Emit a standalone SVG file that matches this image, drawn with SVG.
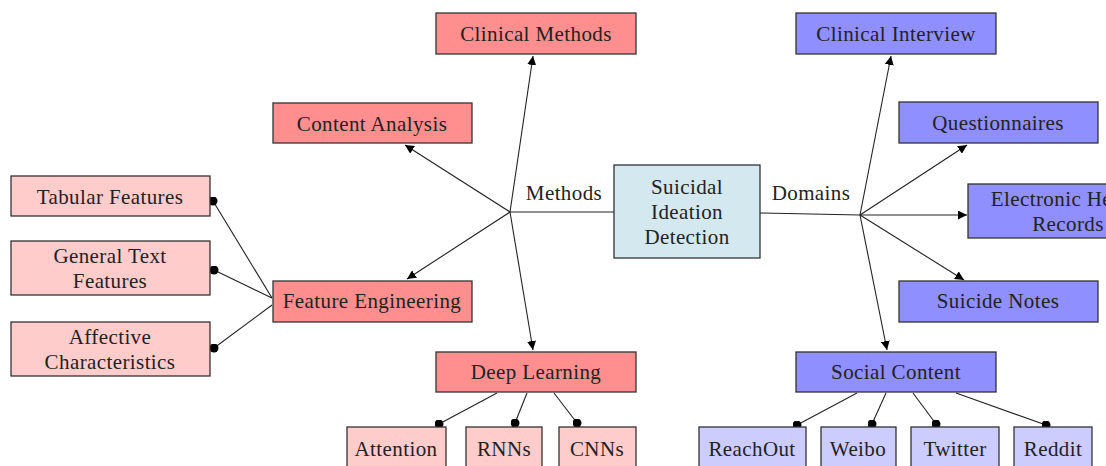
<svg xmlns="http://www.w3.org/2000/svg" width="1106" height="466" viewBox="0 0 1106 466">
  <defs>
    <marker id="arrow" viewBox="0 0 10 10" refX="10" refY="5" markerWidth="9" markerHeight="9" markerUnits="userSpaceOnUse" orient="auto">
      <path d="M0,0 L10,5 L0,10 z" fill="#000"/>
    </marker>
    <marker id="dot" viewBox="0 0 10 10" refX="5" refY="5" markerWidth="9" markerHeight="9" markerUnits="userSpaceOnUse">
      <circle cx="5" cy="5" r="5" fill="#000"/>
    </marker>
  </defs>
  <style>
    .box { stroke: #333; stroke-width: 1.3; }
    .red { fill: #ff8f8f; }
    .pink { fill: #ffcccc; }
    .blue { fill: #8f8fff; }
    .lblue { fill: #ccccff; }
    .core { fill: #d3e9ef; }
    text { font-family: "Liberation Serif", "Times New Roman", serif; font-size: 21px; letter-spacing: 0.4px; fill: #222; text-anchor: middle; }
    .edge { stroke: #222; stroke-width: 1.1; fill: none; }
    .arr { marker-end: url(#arrow); }
    .pin { marker-end: url(#dot); }
  </style>
  <rect width="1106" height="466" fill="#fff"/>

  <g id="connectors">
    <!-- hub lines -->
    <line class="edge" x1="614" y1="212" x2="510" y2="212"/>
    <line class="edge" x1="760" y1="213" x2="860" y2="215"/>
    <!-- methods -->
    <line class="edge arr" x1="510" y1="212" x2="533" y2="56"/>
    <line class="edge arr" x1="510" y1="212" x2="405" y2="145"/>
    <line class="edge arr" x1="510" y1="212" x2="407" y2="279"/>
    <line class="edge arr" x1="510" y1="212" x2="533" y2="350"/>
    <!-- domains -->
    <line class="edge arr" x1="860" y1="215" x2="891" y2="56"/>
    <line class="edge arr" x1="860" y1="215" x2="967" y2="145"/>
    <line class="edge arr" x1="860" y1="215" x2="967" y2="215"/>
    <line class="edge arr" x1="860" y1="215" x2="964" y2="280"/>
    <line class="edge arr" x1="860" y1="215" x2="887" y2="350"/>
    <!-- feature engineering children -->
    <line class="edge pin" x1="272" y1="298" x2="213" y2="201"/>
    <line class="edge pin" x1="272" y1="298" x2="214" y2="270"/>
    <line class="edge pin" x1="272" y1="305" x2="214" y2="348"/>
    <!-- deep learning children -->
    <line class="edge pin" x1="497" y1="393" x2="439" y2="424"/>
    <line class="edge pin" x1="527" y1="393" x2="515" y2="423"/>
    <line class="edge pin" x1="554" y1="393" x2="577" y2="423"/>
    <!-- social content children -->
    <line class="edge pin" x1="857" y1="393" x2="797" y2="425"/>
    <line class="edge pin" x1="886" y1="393" x2="872" y2="424"/>
    <line class="edge pin" x1="913" y1="393" x2="936" y2="424"/>
    <line class="edge pin" x1="956" y1="393" x2="1046" y2="425"/>
  </g>

  <text x="564" y="200">Methods</text>
  <text x="811" y="200">Domains</text>

  <g id="sid">
    <rect class="box core" x="614" y="165" width="146" height="93"/>
    <text x="687" y="194">Suicidal</text>
    <text x="687" y="219">Ideation</text>
    <text x="687" y="244">Detection</text>
  </g>

  <g id="clinical-methods">
    <rect class="box red" x="436" y="13" width="200" height="41"/>
    <text x="536" y="41">Clinical Methods</text>
  </g>
  <g id="content-analysis">
    <rect class="box red" x="273" y="103" width="199" height="40"/>
    <text x="372" y="131">Content Analysis</text>
  </g>
  <g id="feature-engineering">
    <rect class="box red" x="273" y="281" width="199" height="41"/>
    <text x="372" y="308">Feature Engineering</text>
  </g>
  <g id="deep-learning">
    <rect class="box red" x="436" y="352" width="200" height="40"/>
    <text x="536" y="379">Deep Learning</text>
  </g>

  <g id="tabular-features">
    <rect class="box pink" x="11" y="176" width="199" height="40"/>
    <text x="110" y="204">Tabular Features</text>
  </g>
  <g id="general-text-features">
    <rect class="box pink" x="11" y="241" width="199" height="54"/>
    <text x="110" y="263">General Text</text>
    <text x="110" y="288">Features</text>
  </g>
  <g id="affective-characteristics">
    <rect class="box pink" x="11" y="322" width="199" height="54"/>
    <text x="110" y="344">Affective</text>
    <text x="110" y="369">Characteristics</text>
  </g>

  <g id="attention">
    <rect class="box pink" x="347" y="427" width="99" height="45"/>
    <text x="396" y="456">Attention</text>
  </g>
  <g id="rnns">
    <rect class="box pink" x="466" y="427" width="76" height="45"/>
    <text x="504" y="456">RNNs</text>
  </g>
  <g id="cnns">
    <rect class="box pink" x="559" y="427" width="77" height="45"/>
    <text x="597" y="456">CNNs</text>
  </g>

  <g id="clinical-interview">
    <rect class="box blue" x="796" y="13" width="200" height="41"/>
    <text x="896" y="41">Clinical Interview</text>
  </g>
  <g id="questionnaires">
    <rect class="box blue" x="899" y="102" width="199" height="41"/>
    <text x="998" y="130">Questionnaires</text>
  </g>
  <g id="ehr">
    <rect class="box blue" x="968" y="184" width="200" height="54"/>
    <text x="1068" y="206">Electronic Health</text>
    <text x="1068" y="231">Records</text>
  </g>
  <g id="suicide-notes">
    <rect class="box blue" x="899" y="281" width="199" height="41"/>
    <text x="998" y="308">Suicide Notes</text>
  </g>
  <g id="social-content">
    <rect class="box blue" x="796" y="352" width="200" height="40"/>
    <text x="896" y="379">Social Content</text>
  </g>

  <g id="reachout">
    <rect class="box lblue" x="699" y="427" width="107" height="45"/>
    <text x="752" y="456">ReachOut</text>
  </g>
  <g id="weibo">
    <rect class="box lblue" x="821" y="427" width="75" height="45"/>
    <text x="858" y="456">Weibo</text>
  </g>
  <g id="twitter">
    <rect class="box lblue" x="911" y="427" width="88" height="45"/>
    <text x="955" y="456">Twitter</text>
  </g>
  <g id="reddit">
    <rect class="box lblue" x="1014" y="427" width="78" height="45"/>
    <text x="1053" y="456">Reddit</text>
  </g>
</svg>
